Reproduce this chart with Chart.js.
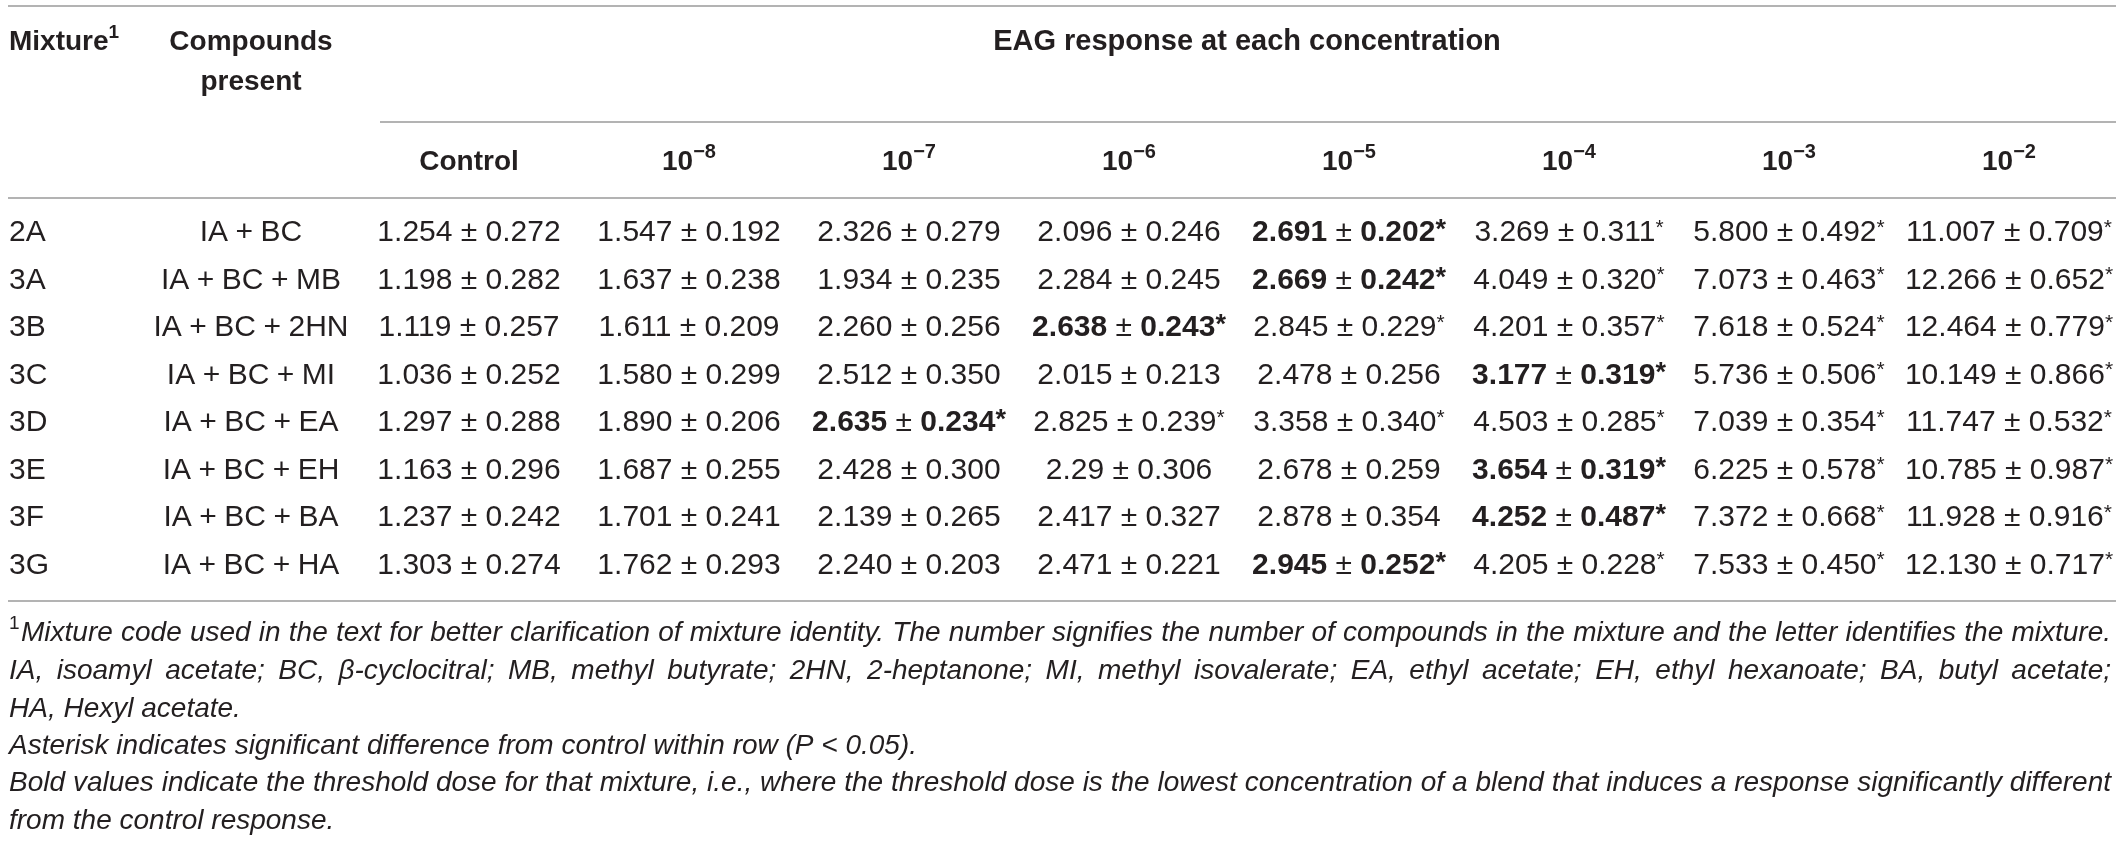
<!DOCTYPE html>
<html>
<head>
<meta charset="utf-8">
<script src="https://cdn.jsdelivr.net/npm/chart.js@4.4.1/dist/chart.umd.min.js"></script>
<style>
  html, body { margin: 0; padding: 0; background: #fff; }
  #wrap { width: 2120px; height: 841px; position: relative; }
</style>
</head>
<body>
<div id="wrap"><canvas id="eag"></canvas></div>
<script>
var mixtures = ['2A', '3A', '3B', '3C', '3D', '3E', '3F', '3G'];
var compounds = ['IA + BC', 'IA + BC + MB', 'IA + BC + 2HN', 'IA + BC + MI',
                 'IA + BC + EA', 'IA + BC + EH', 'IA + BC + BA', 'IA + BC + HA'];
var concentrations = ['Control', '10^−8', '10^−7', '10^−6', '10^−5', '10^−4', '10^−3', '10^−2'];

// mean ± SE per mixture, kept as printed (strings keep trailing zeros)
var mean2A = ['1.254', '1.547', '2.326', '2.096', '2.691', '3.269', '5.800', '11.007'];
var se2A   = ['0.272', '0.192', '0.279', '0.246', '0.202', '0.311', '0.492', '0.709'];
var mean3A = ['1.198', '1.637', '1.934', '2.284', '2.669', '4.049', '7.073', '12.266'];
var se3A   = ['0.282', '0.238', '0.235', '0.245', '0.242', '0.320', '0.463', '0.652'];
var mean3B = ['1.119', '1.611', '2.260', '2.638', '2.845', '4.201', '7.618', '12.464'];
var se3B   = ['0.257', '0.209', '0.256', '0.243', '0.229', '0.357', '0.524', '0.779'];
var mean3C = ['1.036', '1.580', '2.512', '2.015', '2.478', '3.177', '5.736', '10.149'];
var se3C   = ['0.252', '0.299', '0.350', '0.213', '0.256', '0.319', '0.506', '0.866'];
var mean3D = ['1.297', '1.890', '2.635', '2.825', '3.358', '4.503', '7.039', '11.747'];
var se3D   = ['0.288', '0.206', '0.234', '0.239', '0.340', '0.285', '0.354', '0.532'];
var mean3E = ['1.163', '1.687', '2.428', '2.29', '2.678', '3.654', '6.225', '10.785'];
var se3E   = ['0.296', '0.255', '0.300', '0.306', '0.259', '0.319', '0.578', '0.987'];
var mean3F = ['1.237', '1.701', '2.139', '2.417', '2.878', '4.252', '7.372', '11.928'];
var se3F   = ['0.242', '0.241', '0.265', '0.327', '0.354', '0.487', '0.668', '0.916'];
var mean3G = ['1.303', '1.762', '2.240', '2.471', '2.945', '4.205', '7.533', '12.130'];
var se3G   = ['0.274', '0.293', '0.203', '0.221', '0.252', '0.228', '0.450', '0.717'];

// column index of the threshold dose (bold); from there on values differ from control (*)
var thresholdCol = [4, 4, 3, 5, 2, 5, 5, 4];

var means = [mean2A, mean3A, mean3B, mean3C, mean3D, mean3E, mean3F, mean3G];
var ses = [se2A, se3A, se3B, se3C, se3D, se3E, se3F, se3G];

// [text, justified, footnote mark]
var footnotes = [
  ['Mixture code used in the text for better clarification of mixture identity. The number signifies the number of compounds in the mixture and the letter identifies the mixture.', true, true],
  ['IA, isoamyl acetate; BC, β-cyclocitral; MB, methyl butyrate; 2HN, 2-heptanone; MI, methyl isovalerate; EA, ethyl acetate; EH, ethyl hexanoate; BA, butyl acetate;', true, false],
  ['HA, Hexyl acetate.', false, false],
  ['Asterisk indicates significant difference from control within row (P < 0.05).', false, false],
  ['Bold values indicate the threshold dose for that mixture, i.e., where the threshold dose is the lowest concentration of a blend that induces a response significantly different', true, false],
  ['from the control response.', false, false]
];

var FAMILY = '"Liberation Sans", Arial, sans-serif';
var INK = '#231f20';
var RULE = '#9a9a9a';

function font(size, bold, italic) {
  return (italic ? 'italic ' : '') + (bold ? 'bold ' : '') + size + 'px ' + FAMILY;
}

// draw a list of text runs centred (or left aligned) on x
function drawRuns(ctx, runs, x, y, align) {
  var total = 0;
  runs.forEach(function (r) { ctx.font = r.font; r.w = ctx.measureText(r.t).width; total += r.w; });
  var cx = align === 'left' ? x : x - total / 2;
  ctx.textAlign = 'left';
  runs.forEach(function (r) {
    ctx.font = r.font;
    ctx.fillText(r.t, cx, y + (r.dy || 0));
    cx += r.w;
  });
}

function justifyLine(ctx, text, x0, x1, y, justify) {
  var span = x1 - x0;
  var natural = ctx.measureText(text).width;
  if (!justify) {
    ctx.fillText(text, x0, y);
    return;
  }
  var words = text.split(' ');
  var wordsW = 0;
  words.forEach(function (w) { wordsW += ctx.measureText(w).width; });
  var gap = (span - wordsW) / (words.length - 1);
  if (gap < ctx.measureText(' ').width * 0.7) {
    ctx.save();
    ctx.translate(x0, y);
    ctx.scale(span / natural, 1);
    ctx.fillText(text, 0, 0);
    ctx.restore();
    return;
  }
  var x = x0;
  words.forEach(function (w) {
    ctx.fillText(w, x, y);
    x += ctx.measureText(w).width + gap;
  });
}

function hline(ctx, x0, x1, y) {
  ctx.beginPath();
  ctx.moveTo(x0, y);
  ctx.lineTo(x1, y);
  ctx.stroke();
}

var tablePlugin = {
  id: 'tableText',
  afterDatasetsDraw: function (chart) {
    var ctx = chart.ctx;
    var xs = chart.scales.x;
    var ys = chart.scales.y;
    ctx.save();
    ctx.fillStyle = INK;
    ctx.textBaseline = 'middle';

    // rules
    ctx.strokeStyle = RULE;
    ctx.lineWidth = 1.5;
    hline(ctx, 8, 2116, 6);
    hline(ctx, 380, 2116, 122);
    hline(ctx, 8, 2116, 198);
    hline(ctx, 8, 2116, 601);

    // header
    drawRuns(ctx, [{ t: 'Mixture', font: font(28, true) },
                   { t: '1', font: font(19, true), dy: -9 }], 9, 42, 'left');
    drawRuns(ctx, [{ t: 'Compounds', font: font(28, true) }], 251, 42);
    drawRuns(ctx, [{ t: 'present', font: font(28, true) }], 251, 82);
    drawRuns(ctx, [{ t: 'EAG response at each concentration', font: font(29, true) }],
             (xs.left + xs.right) / 2 + 8, 42);
    concentrations.forEach(function (c, i) {
      var x = xs.getPixelForValue(i);
      var parts = c.split('^');
      var runs = [{ t: parts[0], font: font(28, true) }];
      if (parts[1]) runs.push({ t: parts[1], font: font(20, true), dy: -10 });
      drawRuns(ctx, runs, x, 162);
    });

    // first two columns follow the row scale
    mixtures.forEach(function (m, r) {
      var y = ys.getPixelForValue(r);
      drawRuns(ctx, [{ t: m, font: font(30) }], 9, y, 'left');
      drawRuns(ctx, [{ t: compounds[r].replace(/ \+ /g, '\u2005+\u2005'), font: font(30) }], 251, y);
    });

    // value cells at the dataset points
    chart.data.datasets.forEach(function (ds, r) {
      var meta = chart.getDatasetMeta(r);
      meta.data.forEach(function (pt, c) {
        var d = ds.data[c];
        var runs;
        if (c === thresholdCol[r]) {
          runs = [{ t: d.mean, font: font(30, true) },
                  { t: ' ± ', font: font(30) },
                  { t: d.se, font: font(30, true) },
                  { t: '*', font: font(27, true), dy: -2 }];
        } else {
          runs = [{ t: d.mean, font: font(30) },
                  { t: ' ± ', font: font(30) },
                  { t: d.se, font: font(30) }];
          if (c > thresholdCol[r]) runs.push({ t: '*', font: font(21), dy: -5 });
        }
        drawRuns(ctx, runs, pt.x, pt.y);
      });
    });

    // footnotes
    var lineY = [633, 671, 709, 746, 783, 821];
    footnotes.forEach(function (f, i) {
      var x0 = 9;
      if (f[2]) {
        ctx.font = font(19);
        ctx.fillText('1', 9, lineY[i] - 9);
        x0 = 21;
      }
      ctx.font = font(28, false, true);
      justifyLine(ctx, f[0], x0, 2111, lineY[i], f[1]);
    });
    ctx.restore();
  }
};

var datasets = mixtures.map(function (m, r) {
  return {
    label: m,
    data: concentrations.map(function (c, i) {
      return { x: c, y: m, mean: means[r][i], se: ses[r][i] };
    }),
    pointRadius: 0,
    pointHoverRadius: 0,
    showLine: false
  };
});

new Chart(document.getElementById('eag'), {
  type: 'scatter',
  data: { datasets: datasets },
  options: {
    responsive: true,
    maintainAspectRatio: false,
    animation: false,
    events: [],
    layout: { padding: { left: 359, right: 1, top: 209, bottom: 252 } },
    plugins: { legend: { display: false }, tooltip: { enabled: false } },
    scales: {
      x: { type: 'category', labels: concentrations, offset: true, display: false },
      y: { type: 'category', labels: mixtures, offset: true, display: false }
    }
  },
  plugins: [tablePlugin]
});
</script>
</body>
</html>
